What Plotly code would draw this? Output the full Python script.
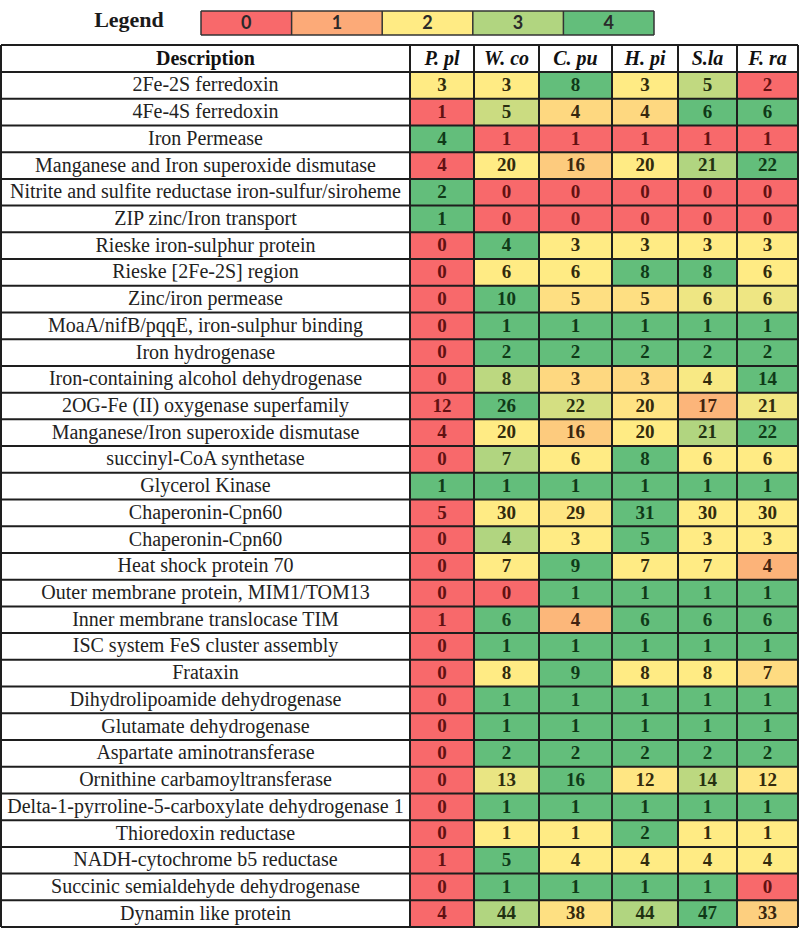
import numpy as np
import plotly.graph_objects as go

# ---------------- data ----------------
species = ["P. pl", "W. co", "C. pu", "H. pi", "S.la", "F. ra"]
descriptions = [
    "2Fe-2S ferredoxin",
    "4Fe-4S ferredoxin",
    "Iron Permease",
    "Manganese and Iron superoxide dismutase",
    "Nitrite and sulfite reductase iron-sulfur/siroheme",
    "ZIP zinc/Iron transport",
    "Rieske iron-sulphur protein",
    "Rieske [2Fe-2S] region",
    "Zinc/iron permease",
    "MoaA/nifB/pqqE, iron-sulphur binding",
    "Iron hydrogenase",
    "Iron-containing alcohol dehydrogenase",
    "2OG-Fe (II) oxygenase superfamily",
    "Manganese/Iron superoxide dismutase",
    "succinyl-CoA synthetase",
    "Glycerol Kinase",
    "Chaperonin-Cpn60",
    "Chaperonin-Cpn60",
    "Heat shock protein 70",
    "Outer membrane protein, MIM1/TOM13",
    "Inner membrane translocase TIM",
    "ISC system FeS cluster assembly",
    "Frataxin",
    "Dihydrolipoamide dehydrogenase",
    "Glutamate dehydrogenase",
    "Aspartate aminotransferase",
    "Ornithine carbamoyltransferase",
    "Delta-1-pyrroline-5-carboxylate dehydrogenase 1",
    "Thioredoxin reductase",
    "NADH-cytochrome b5 reductase",
    "Succinic semialdehyde dehydrogenase",
    "Dynamin like protein",
]
p_pl = [3, 1, 4, 4, 2, 1, 0, 0, 0, 0, 0, 0, 12, 4, 0, 1, 5, 0, 0, 0, 1, 0, 0, 0, 0, 0, 0, 0, 0, 1, 0, 4]
w_co = [3, 5, 1, 20, 0, 0, 4, 6, 10, 1, 2, 8, 26, 20, 7, 1, 30, 4, 7, 0, 6, 1, 8, 1, 1, 2, 13, 1, 1, 5, 1, 44]
c_pu = [8, 4, 1, 16, 0, 0, 3, 6, 5, 1, 2, 3, 22, 16, 6, 1, 29, 3, 9, 1, 4, 1, 9, 1, 1, 2, 16, 1, 1, 4, 1, 38]
h_pi = [3, 4, 1, 20, 0, 0, 3, 8, 5, 1, 2, 3, 20, 20, 8, 1, 31, 5, 7, 1, 6, 1, 8, 1, 1, 2, 12, 1, 2, 4, 1, 44]
s_la = [5, 6, 1, 21, 0, 0, 3, 8, 6, 1, 2, 4, 17, 21, 6, 1, 30, 3, 7, 1, 6, 1, 8, 1, 1, 2, 14, 1, 1, 4, 1, 47]
f_ra = [2, 6, 1, 22, 0, 0, 3, 6, 6, 1, 2, 14, 21, 22, 6, 1, 30, 3, 4, 1, 6, 1, 7, 1, 1, 2, 12, 1, 1, 4, 0, 33]
legend_labels = ["0", "1", "2", "3", "4"]

# ---------------- layout constants ----------------
W, H = 800, 929
COL_EDGES = [1, 410, 474, 539, 612, 678, 737, 798]
TABLE_TOP = 45
HEADER_H = 27
ROW_H = 26.72
LEG_X0, LEG_X1, LEG_Y0, LEG_Y1 = 201, 654, 11, 35
RED, YEL, GRN = (248, 105, 107), (255, 235, 132), (99, 190, 123)
COLORSCALE = [[0, "rgb(248,105,107)"], [0.5, "rgb(255,235,132)"], [1, "rgb(99,190,123)"]]
LINE = "#1e1e1e"

vals = np.array([p_pl, w_co, c_pu, h_pi, s_la, f_ra]).T  # rows x cols
nrows, ncols = vals.shape


def row_scale(row):
    """Excel-style 3-colour scale: min -> 0, 50th percentile -> 0.5, max -> 1."""
    mn, mx, md = row.min(), row.max(), np.percentile(row, 50)
    out = []
    for v in row:
        if v == mx:
            out.append(1.0)
        elif v == mn:
            out.append(0.0)
        elif v <= md:
            out.append(0.5 * (v - mn) / (md - mn))
        else:
            out.append(0.5 + 0.5 * (v - md) / (mx - md))
    return out


Z = np.array([row_scale(r) for r in vals])


def interp(z):
    if z <= 0.5:
        a, b, t = RED, YEL, z / 0.5
    else:
        a, b, t = YEL, GRN, (z - 0.5) / 0.5
    return [a[i] + (b[i] - a[i]) * t for i in range(3)]


def text_color(z):
    c = interp(z)
    t = [ch * ch / 255 for ch in c]
    lum = 0.299 * t[0] + 0.587 * t[1] + 0.114 * t[2]
    k = 42 / lum
    return "rgb(%d,%d,%d)" % tuple(min(255, int(ch * k)) for ch in t)


row_edges = [TABLE_TOP + HEADER_H + i * ROW_H for i in range(nrows + 1)]
TABLE_BOTTOM = row_edges[-1]
col_centers = [(COL_EDGES[i] + COL_EDGES[i + 1]) / 2 for i in range(len(COL_EDGES) - 1)]
row_centers = [(row_edges[i] + row_edges[i + 1]) / 2 for i in range(nrows)]

fig = go.Figure()

# coloured cells
fig.add_trace(go.Heatmap(
    x=COL_EDGES[1:], y=row_edges, z=Z, zmin=0, zmax=1,
    colorscale=COLORSCALE, showscale=False, hoverinfo="skip",
))

# legend cells
leg_edges = [LEG_X0 + i * (LEG_X1 - LEG_X0) / 5 for i in range(6)]
fig.add_trace(go.Heatmap(
    x=leg_edges, y=[LEG_Y0, LEG_Y1], z=[[0, 0.25, 0.5, 0.75, 1]], zmin=0, zmax=1,
    colorscale=COLORSCALE, showscale=False, hoverinfo="skip",
))
fig.add_trace(go.Scatter(
    x=[(leg_edges[i] + leg_edges[i + 1]) / 2 for i in range(5)], y=[(LEG_Y0 + LEG_Y1) / 2 + 1] * 5,
    text=[f"<b>{s}</b>" for s in legend_labels], mode="text",
    textfont=dict(family="Lato", size=18, color="#2a2a2a"), hoverinfo="skip",
))
fig.add_trace(go.Scatter(
    x=[129], y=[21], text=["<b>Legend</b>"], mode="text",
    textfont=dict(family="Liberation Serif", size=22, color="#1a1a1a"), hoverinfo="skip",
))

# numbers
xs, ys, ts, cs = [], [], [], []
for r in range(nrows):
    for c in range(ncols):
        xs.append(col_centers[c + 1])
        ys.append(row_centers[r] + 1)
        ts.append(f"<b>{vals[r, c]}</b>")
        cs.append(text_color(Z[r, c]))
fig.add_trace(go.Scatter(
    x=xs, y=ys, text=ts, mode="text",
    textfont=dict(family="Liberation Serif", size=19, color=cs), hoverinfo="skip",
))

# descriptions
fig.add_trace(go.Scatter(
    x=[col_centers[0]] * nrows, y=[y + 1 for y in row_centers], text=descriptions, mode="text",
    textfont=dict(family="Liberation Serif", size=20, color="#222222"), hoverinfo="skip",
))

# headers
hy = TABLE_TOP + HEADER_H / 2 + 1
fig.add_trace(go.Scatter(
    x=[col_centers[0]], y=[hy], text=["<b>Description</b>"], mode="text",
    textfont=dict(family="Liberation Serif", size=20, color="#111111"), hoverinfo="skip",
))
fig.add_trace(go.Scatter(
    x=col_centers[1:], y=[hy] * ncols, text=[f"<b><i>{s}</i></b>" for s in species], mode="text",
    textfont=dict(family="Liberation Serif", size=20, color="#111111"), hoverinfo="skip",
))

# grid lines
shapes = []
for x in COL_EDGES:
    shapes.append(dict(type="line", x0=x, x1=x, y0=TABLE_TOP, y1=TABLE_BOTTOM, line=dict(color=LINE, width=2)))
for y in [TABLE_TOP] + row_edges:
    shapes.append(dict(type="line", x0=COL_EDGES[0], x1=COL_EDGES[-1], y0=y, y1=y, line=dict(color=LINE, width=2)))
for x in leg_edges:
    shapes.append(dict(type="line", x0=x, x1=x, y0=LEG_Y0, y1=LEG_Y1, line=dict(color="#333333", width=1.5)))
for y in [LEG_Y0, LEG_Y1]:
    shapes.append(dict(type="line", x0=LEG_X0, x1=LEG_X1, y0=y, y1=y, line=dict(color="#333333", width=1.5)))

fig.update_layout(
    width=W, height=H, margin=dict(l=0, r=0, t=0, b=0),
    paper_bgcolor="white", plot_bgcolor="white", showlegend=False,
    xaxis=dict(range=[0, W], visible=False, fixedrange=True),
    yaxis=dict(range=[H, 0], visible=False, fixedrange=True),
    shapes=shapes,
)

fig.write_html(
    "out.html",
    config={"displayModeBar": False},
    post_script="document.body.style.margin='0';document.body.style.overflow='hidden';",
)
